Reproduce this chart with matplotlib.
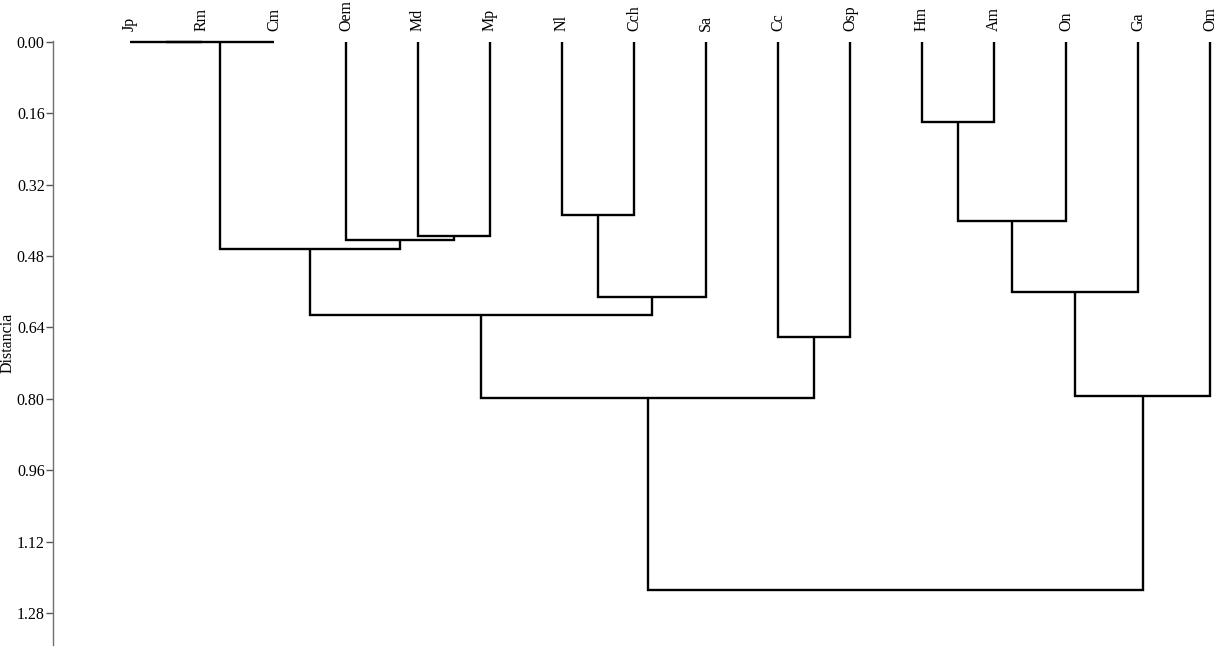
import matplotlib
matplotlib.use("Agg")
import matplotlib.pyplot as plt
from matplotlib.transforms import blended_transform_factory, offset_copy

# ---- data ----
labels = ['Jp', 'Rm', 'Cm', 'Oem', 'Md', 'Mp', 'Nl', 'Cch', 'Sa', 'Cc',
          'Osp', 'Hm', 'Am', 'On', 'Ga', 'Om']
# merges: (left cluster, right cluster); new clusters numbered from len(labels)
merge_left = [0, 16, 4, 3, 17, 6, 21, 20, 9, 23, 11, 26, 27, 28, 25]
merge_right = [1, 2, 5, 18, 19, 7, 8, 22, 10, 24, 12, 13, 14, 15, 29]
merge_height = [0.000, 0.000, 0.436, 0.443, 0.465, 0.388, 0.571, 0.612,
                0.662, 0.798, 0.179, 0.402, 0.561, 0.794, 1.228]
yticks = [0.00, 0.16, 0.32, 0.48, 0.64, 0.80, 0.96, 1.12, 1.28]
ylabel = 'Distancia'

plt.rcParams['font.family'] = ['Liberation Serif', 'DejaVu Serif']
FS = 11.5

W, H = 1220, 647
fig = plt.figure(figsize=(W / 100, H / 100), dpi=100)
ax_left_px, ax_right_px = 53, 1220
ax_top_px, ax_bot_px = 41, 645
ax = fig.add_axes([ax_left_px / W, 1 - ax_bot_px / H,
                   (ax_right_px - ax_left_px) / W, (ax_bot_px - ax_top_px) / H])

# positions of clusters
n = len(labels)
xpos = {i: float(i) for i in range(n)}
ypos = {i: 0.0 for i in range(n)}
lw = 1.7
for k, (a, b, h) in enumerate(zip(merge_left, merge_right, merge_height)):
    xa, xb = xpos[a], xpos[b]
    ya, yb = ypos[a], ypos[b]
    ax.plot([xa, xa, xb, xb], [ya, h, h, yb], color='black', lw=lw,
            solid_joinstyle='miter', solid_capstyle='butt', clip_on=False)
    new = n + k
    xpos[new] = (xa + xb) / 2
    ypos[new] = h

leaf_step = 72.0
ax.set_xlim(-(130 - ax_left_px) / leaf_step, (n - 1) + (ax_right_px - 1210) / leaf_step)
ax.set_ylim(1.352, -0.002)

trans = blended_transform_factory(ax.transData, ax.transAxes)
trans = offset_copy(trans, fig=fig, x=0, y=7, units='points')
for i, lab in enumerate(labels):
    ax.text(i, 1.0, lab, rotation=90, ha='center', va='bottom',
            fontsize=FS, transform=trans)

ax.set_yticks(yticks)
ax.set_yticklabels([f'{t:.2f}' for t in yticks], fontsize=FS)
ax.tick_params(axis='y', length=5, width=1, color='#555555', pad=1)
ax.set_xticks([])
for s in ['top', 'right', 'bottom']:
    ax.spines[s].set_visible(False)
ax.spines['left'].set_color('#707070')
ax.spines['left'].set_linewidth(1.0)
ax.set_ylabel(ylabel, fontsize=FS)
ax.yaxis.set_label_coords(-(ax_left_px - 16) / (ax_right_px - ax_left_px), 0.5)

fig.savefig('out.png', dpi=100)
